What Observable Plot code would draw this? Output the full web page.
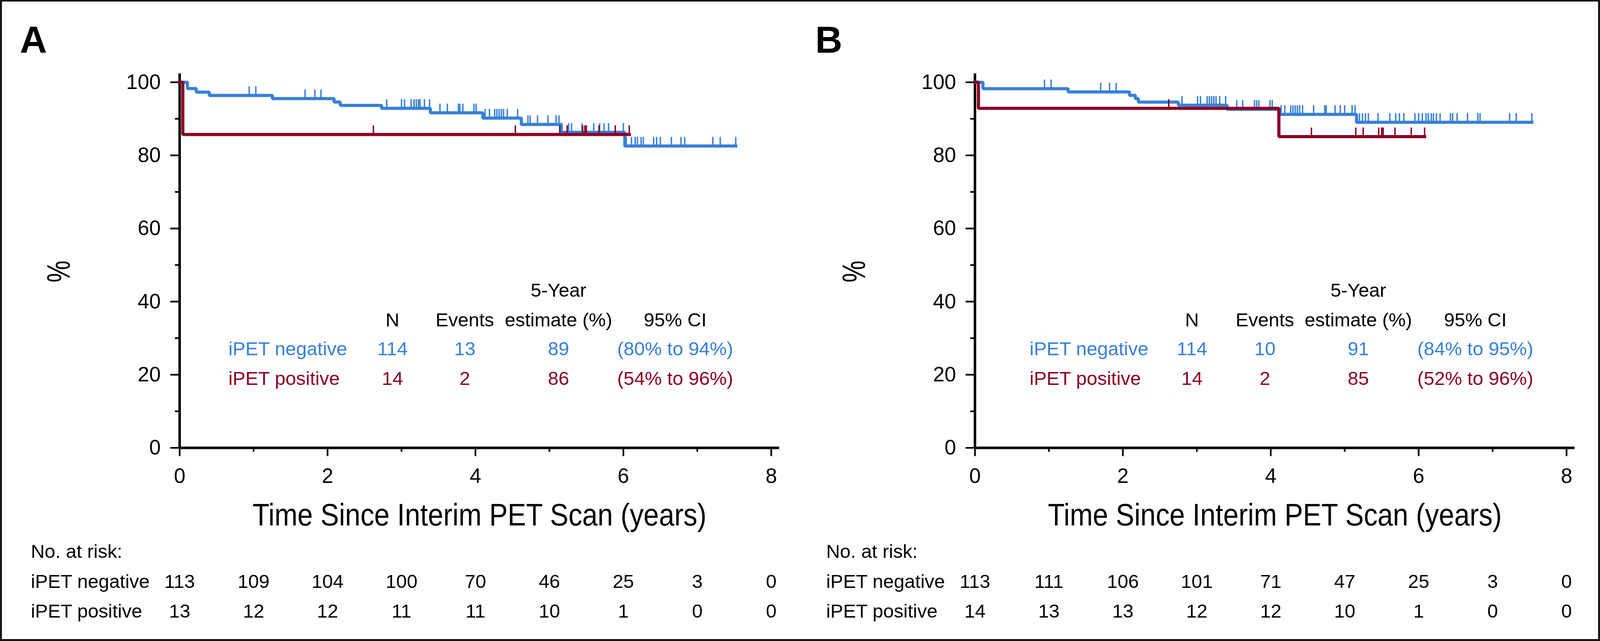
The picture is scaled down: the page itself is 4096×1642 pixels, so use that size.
<!DOCTYPE html>
<html>
<head>
<meta charset="utf-8">
<script src="https://cdn.jsdelivr.net/npm/d3@7"></script>
<script src="https://cdn.jsdelivr.net/npm/@observablehq/plot@0.6"></script>
<style>
html, body { margin: 0; padding: 0; background: #fff; }
#fig { position: relative; width: 4096px; height: 1642px; overflow: hidden; background: #fff; }
#fig > .panel { position: absolute; top: 0; }
#border { position: absolute; left: 0; top: 0; width: 4096px; height: 1642px; box-sizing: border-box; border: 5px solid #151515; border-top-width: 4px; pointer-events: none; }
</style>
</head>
<body>
<div id="fig"><div id="border"></div></div>
<script>
// ---------------- data ----------------
const years = [0, 1, 2, 3, 4, 5, 6, 7, 8];
const xMajor = [0, 2, 4, 6, 8];
const xMinor = [1, 3, 5, 7];
const yMajor = [0, 20, 40, 60, 80, 100];
const yMinor = [10, 30, 50, 70, 90];
const groups = ["iPET negative", "iPET positive"];
const tableHeader = ["N", "Events", "estimate (%)", "95% CI"];
const tableTop = "5-Year";
const riskTitle = "No. at risk:";
const xTitle = "Time Since Interim PET Scan (years)";
const yTitle = "%";

// Panel A
const aNegTime = [0, 0.105, 0.225, 0.40, 1.254, 2.088, 2.172, 2.73, 3.39, 4.10, 4.62, 5.16, 6.02, 7.52];
const aNegSurv = [100, 98.28, 97.31, 96.39, 95.54, 94.59, 93.66, 92.86, 91.65, 90.21, 88.45, 86.3, 82.55, 82.55];
const aPosTime = [0, 0.043, 6.08];
const aPosSurv = [100, 85.71, 85.71];
const aNegCensor = [0.94, 1.03, 1.696, 1.828, 1.911, 2.80, 3.00, 3.04, 3.13, 3.17, 3.20, 3.23, 3.25, 3.31, 3.38,
  3.52, 3.62, 3.77, 3.79, 3.83, 3.98, 4.01, 4.13, 4.19, 4.26, 4.29, 4.32, 4.35, 4.38, 4.43, 4.57,
  4.71, 4.74, 4.84, 4.98, 5.09, 5.13, 5.17, 5.26, 5.30, 5.44, 5.60, 5.68, 5.74, 5.80, 6.00,
  6.04, 6.11, 6.16, 6.19, 6.24, 6.27, 6.41, 6.45, 6.50, 6.65, 6.78, 6.83, 7.21, 7.31, 7.52];
const aPosCensor = [2.62, 4.54, 5.14, 5.24, 5.45, 5.48, 5.50, 5.67, 5.89, 6.08];
const aTableNeg = ["114", "13", "89", "(80% to 94%)"];
const aTablePos = ["14", "2", "86", "(54% to 96%)"];
const aRiskNeg = [113, 109, 104, 100, 70, 46, 25, 3, 0];
const aRiskPos = [13, 12, 12, 11, 11, 10, 1, 0, 0];

// Panel B
const bNegTime = [0, 0.108, 1.26, 2.09, 2.17, 2.21, 2.75, 3.41, 4.12, 5.16, 7.53];
const bNegSurv = [100, 98.24, 97.35, 96.43, 95.54, 94.58, 93.72, 92.6, 91.22, 89.05, 89.05];
const bPosTime = [0, 0.047, 4.11, 6.08];
const bPosSurv = [100, 92.86, 85.12, 85.12];
const bNegCensor = [0.94, 1.03, 1.70, 1.82, 1.91, 2.80, 3.01, 3.05, 3.14, 3.17, 3.20, 3.23, 3.26, 3.31, 3.39,
  3.54, 3.62, 3.78, 3.81, 3.84, 3.99, 4.02, 4.14, 4.19, 4.27, 4.30, 4.33, 4.36, 4.39, 4.43, 4.58,
  4.73, 4.75, 4.87, 4.94, 5.00, 5.10, 5.14, 5.20, 5.24, 5.28, 5.32, 5.45, 5.61, 5.69, 5.74, 5.80,
  5.95, 6.00, 6.05, 6.10, 6.13, 6.17, 6.20, 6.24, 6.29, 6.43, 6.46, 6.52, 6.66, 6.80, 6.83, 7.23, 7.32, 7.53];
const bPosCensor = [2.62, 4.55, 5.15, 5.25, 5.46, 5.50, 5.52, 5.68, 5.90, 6.08];
const bTableNeg = ["114", "10", "91", "(84% to 95%)"];
const bTablePos = ["14", "2", "85", "(52% to 96%)"];
const bRiskNeg = [113, 111, 106, 101, 71, 47, 25, 3, 0];
const bRiskPos = [14, 13, 13, 12, 12, 10, 1, 0, 0];

// ---------------- style / layout ----------------
const BLUE = "#3880d6";
const RED = "#8a0026";
const INK = "#000";
const FONT = "'Liberation Sans', Arial, Helvetica, sans-serif";
const H = 1642;
const xMax = 8.11, yMax = 102.36;
const mL = 459.4, frameW = 1535.3, mT = 188.1, mB = H - 1146.7;
const intFmt = d => String(d);

function survAt(times, surv, t) {
  let s = surv[0];
  for (let i = 0; i < times.length; i++) if (times[i] <= t) s = surv[i];
  return s;
}

function panel(cfg) {
  const negLine = cfg.negTime.map((t, i) => ({t, s: cfg.negSurv[i]}));
  const posLine = cfg.posTime.map((t, i) => ({t, s: cfg.posSurv[i]}));
  const negC = cfg.negCensor.map(t => ({t, s: survAt(cfg.negTime, cfg.negSurv, t)}));
  const posC = cfg.posCensor.map(t => ({t, s: survAt(cfg.posTime, cfg.posSurv, t)}));
  const tick = 2.45; // censor tick height (percentage units)
  const L = cfg.layout;
  const header = tableHeader.map((text, i) => ({x: L.colX[i], text}));
  const rowNeg = cfg.tableNeg.map((text, i) => ({x: L.colX[i], text}));
  const rowPos = cfg.tablePos.map((text, i) => ({x: L.colX[i], text}));
  const fs = 49;
  const W = cfg.width;
  return Plot.plot({
    width: W, height: H,
    marginLeft: mL, marginRight: W - mL - frameW, marginTop: mT, marginBottom: mB,
    x: {domain: [0, xMax], axis: null},
    y: {domain: [0, yMax], axis: null},
    style: {fontFamily: FONT, background: "transparent", overflow: "visible", color: INK},
    marks: [
      // axes
      Plot.axisY(yMajor, {tickSize: 23.5, tickPadding: 25, strokeWidth: 4.3, fontSize: 53, tickFormat: intFmt, label: null}),
      Plot.axisY(yMinor, {tickSize: 11.5, strokeWidth: 4.3, tickFormat: () => "", label: null}),
      Plot.axisX(xMajor, {tickSize: 21.6, tickPadding: 31, strokeWidth: 4.3, fontSize: 53, tickFormat: intFmt, label: null}),
      Plot.axisX(xMinor, {tickSize: 10.7, strokeWidth: 4.3, tickFormat: () => "", label: null}),
      Plot.ruleX([0], {y1: 0, y2: yMax, strokeWidth: 6.4, stroke: INK}),
      Plot.ruleY([0], {x1: 0, x2: xMax, strokeWidth: 6.6, stroke: INK}),
      // survival curves
      Plot.line(negLine, {x: "t", y: "s", curve: "step-after", stroke: BLUE, strokeWidth: 8, strokeLinejoin: "miter", strokeLinecap: "square"}),
      Plot.ruleX(negC, {x: "t", y1: "s", y2: d => d.s + tick, stroke: BLUE, strokeWidth: 3.6}),
      Plot.line(posLine, {x: "t", y: "s", curve: "step-after", stroke: RED, strokeWidth: 8, strokeLinejoin: "miter", strokeLinecap: "square"}),
      Plot.ruleX(posC, {x: "t", y1: "s", y2: d => d.s + tick, stroke: RED, strokeWidth: 3.6}),
      // in-plot table
      Plot.text([tableTop], {x: L.colX[2], y: L.rowY[0], text: d => d, lineAnchor: "bottom", textAnchor: "middle", fontSize: fs, fill: INK}),
      Plot.text(header, {x: "x", y: L.rowY[1], text: "text", lineAnchor: "bottom", textAnchor: "middle", fontSize: fs, fill: INK}),
      Plot.text([groups[0]], {x: L.labelX, y: L.rowY[2], text: d => d, lineAnchor: "bottom", textAnchor: "start", fontSize: fs, fill: BLUE}),
      Plot.text(rowNeg, {x: "x", y: L.rowY[2], text: "text", lineAnchor: "bottom", textAnchor: "middle", fontSize: fs, fill: BLUE}),
      Plot.text([groups[1]], {x: L.labelX, y: L.rowY[3], text: d => d, lineAnchor: "bottom", textAnchor: "start", fontSize: fs, fill: RED}),
      Plot.text(rowPos, {x: "x", y: L.rowY[3], text: "text", lineAnchor: "bottom", textAnchor: "middle", fontSize: fs, fill: RED}),
      // axis titles
      Plot.text([xTitle], {frameAnchor: "bottom", dy: 198.9, text: d => d, lineAnchor: "bottom", textAnchor: "middle", fontSize: 80.5, fill: INK}),
      Plot.text([yTitle], {frameAnchor: "top-left", dx: -308.2, dy: 507, text: d => d, rotate: -90, lineAnchor: "middle", textAnchor: "middle", fontSize: 84, fill: INK}),
      // panel letter
      Plot.text([cfg.letter], {frameAnchor: "top-left", dx: -409, dy: -53.7, text: d => d, lineAnchor: "bottom", textAnchor: "start", fontSize: 96, fontWeight: "bold", fill: INK}),
      // numbers at risk
      Plot.text([riskTitle], {frameAnchor: "bottom-left", dx: -381, dy: 281.8, text: d => d, lineAnchor: "bottom", textAnchor: "start", fontSize: fs, fill: INK}),
      Plot.text([groups[0]], {frameAnchor: "bottom-left", dx: -381, dy: 358.6, text: d => d, lineAnchor: "bottom", textAnchor: "start", fontSize: fs, fill: INK}),
      Plot.text([groups[1]], {frameAnchor: "bottom-left", dx: -381, dy: 434.4, text: d => d, lineAnchor: "bottom", textAnchor: "start", fontSize: fs, fill: INK}),
      Plot.text(years, {x: d => d, text: (d, i) => String(cfg.riskNeg[i]), frameAnchor: "bottom", dy: 358.6, lineAnchor: "bottom", textAnchor: "middle", fontSize: fs, fill: INK}),
      Plot.text(years, {x: d => d, text: (d, i) => String(cfg.riskPos[i]), frameAnchor: "bottom", dy: 434.4, lineAnchor: "bottom", textAnchor: "middle", fontSize: fs, fill: INK})
    ]
  });
}

function squeeze(svg) {
  d3.select(svg).selectAll("text").each(function () {
    const t = this.textContent;
    if (t === xTitle) { this.setAttribute("textLength", 1162); this.setAttribute("lengthAdjust", "spacingAndGlyphs"); }
    if (t === yTitle) { this.setAttribute("textLength", 56); this.setAttribute("lengthAdjust", "spacingAndGlyphs"); }
  });
}

const fig = document.getElementById("fig");
const panels = [
  {letter: "A", left: 0, width: 2036,
   negTime: aNegTime, negSurv: aNegSurv, posTime: aPosTime, posSurv: aPosSurv,
   negCensor: aNegCensor, posCensor: aPosCensor, tableNeg: aTableNeg, tablePos: aTablePos,
   riskNeg: aRiskNeg, riskPos: aRiskPos,
   layout: {labelX: 0.659, colX: [2.878, 3.856, 5.123, 6.701], rowY: [41.3, 33.26, 25.3, 17.17]}},
  {letter: "B", left: 2036, width: 2060,
   negTime: bNegTime, negSurv: bNegSurv, posTime: bPosTime, posSurv: bPosSurv,
   negCensor: bNegCensor, posCensor: bPosCensor, tableNeg: bTableNeg, tablePos: bTablePos,
   riskNeg: bRiskNeg, riskPos: bRiskPos,
   layout: {labelX: 0.739, colX: [2.935, 3.921, 5.184, 6.766], rowY: [41.3, 33.26, 25.3, 17.17]}}
];
const border = document.getElementById("border");
for (const p of panels) {
  const svg = panel(p);
  squeeze(svg);
  svg.classList.add("panel");
  svg.style.left = p.left + "px";
  fig.insertBefore(svg, border);
}
</script>
</body>
</html>
